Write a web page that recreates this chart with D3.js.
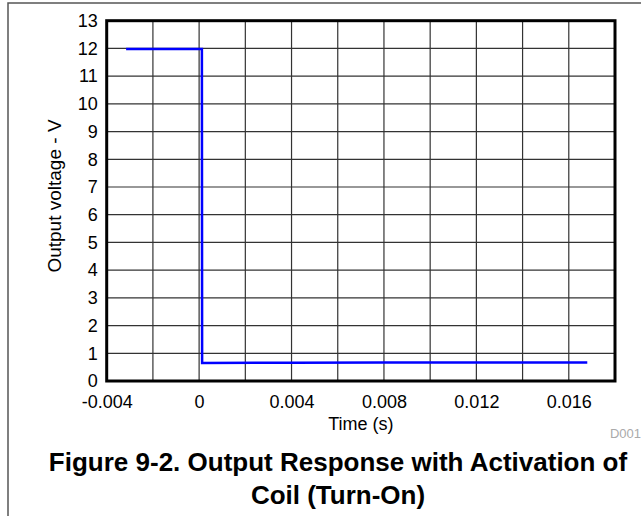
<!DOCTYPE html>
<html>
<head>
<meta charset="utf-8">
<script src="https://cdn.jsdelivr.net/npm/d3@7"></script>
<style>
  body{margin:0;background:#fff;}
  text{font-family:"Liberation Sans",Arial,sans-serif;}
</style>
</head>
<body>
<svg id="chart"></svg>
<script>
// data
let timeVals=[-0.00316,0.00012,0.00013,0.004,0.008,0.012,0.0168];
let voltVals=[11.98,11.98,0.65,0.66,0.67,0.67,0.67];
let xTicks=[-0.004,0,0.004,0.008,0.012,0.016];
let xGrid=d3.range(-0.004,0.0181,0.002);
let yTicks=d3.range(0,14,1);
let titleLines=['Figure 9-2. Output Response with Activation of','Coil (Turn-On)'];

let w=641, h=516;
let plotL=106.7, plotR=615, plotT=20.7, plotB=381;
let font='"Liberation Sans",Arial,sans-serif';

let svg=d3.select('#chart').attr('width',w).attr('height',h);

let xScale=d3.scaleLinear().domain([-0.004,0.018]).range([plotL,plotR]);
let yScale=d3.scaleLinear().domain([0,13]).range([plotB,plotT]);

// outer frame (only top + left visible)
svg.append('path')
   .attr('d','M8,516 V3 H641')
   .attr('fill','none')
   .attr('stroke','#555')
   .attr('stroke-width',1.5);

// grid
svg.append('g').selectAll('line')
   .data(xGrid)
   .enter().append('line')
   .attr('x1',d=>xScale(d)).attr('x2',d=>xScale(d))
   .attr('y1',plotT).attr('y2',plotB)
   .attr('stroke','#333').attr('stroke-width',1.2);
svg.append('g').selectAll('line')
   .data(yTicks)
   .enter().append('line')
   .attr('x1',plotL).attr('x2',plotR)
   .attr('y1',d=>yScale(d)).attr('y2',d=>yScale(d))
   .attr('stroke','#333').attr('stroke-width',1.2);

// axes (labels only, lines hidden)
let xAxis=d3.axisBottom(xScale).tickValues(xTicks).tickSize(0).tickPadding(14)
   .tickFormat(d=>d===0?'0':d3.format('.3f')(d).replace('\u2212','-'));
let gx=svg.append('g').attr('transform','translate(0,'+plotB+')').call(xAxis);
gx.select('.domain').remove();
gx.selectAll('text').attr('font-size',18).attr('fill','#000').attr('font-family',font);

let yAxis=d3.axisLeft(yScale).tickValues(yTicks).tickSize(0).tickPadding(9);
let gy=svg.append('g').attr('transform','translate('+plotL+',0)').call(yAxis);
gy.select('.domain').remove();
gy.selectAll('text').attr('font-size',18).attr('fill','#000').attr('font-family',font);

// data line
let line=d3.line().x((d,i)=>xScale(timeVals[i])).y(d=>yScale(d));
svg.append('path')
   .datum(voltVals)
   .attr('d',line)
   .attr('fill','none')
   .attr('stroke','#0000ff')
   .attr('stroke-width',2.5);

// plot border
svg.append('rect')
   .attr('x',plotL).attr('y',plotT)
   .attr('width',plotR-plotL).attr('height',plotB-plotT)
   .attr('fill','none').attr('stroke','#000').attr('stroke-width',3);

// axis titles
svg.append('text')
   .attr('x',(plotL+plotR)/2).attr('y',430)
   .attr('text-anchor','middle').attr('font-size',18)
   .text('Time (s)');
svg.append('text')
   .attr('transform','translate(61,196) rotate(-90)')
   .attr('text-anchor','middle').attr('font-size',19)
   .text('Output voltage - V');

svg.append('text')
   .attr('x',641).attr('y',438)
   .attr('text-anchor','end').attr('font-size',13).attr('fill','#aaa')
   .text('D001');

// caption
svg.selectAll('.cap')
   .data(titleLines)
   .enter().append('text')
   .attr('class','cap')
   .attr('x',338).attr('y',(d,i)=>471+i*33)
   .attr('text-anchor','middle')
   .attr('font-size',26).attr('font-weight','bold')
   .text(d=>d);
</script>
</body>
</html>
